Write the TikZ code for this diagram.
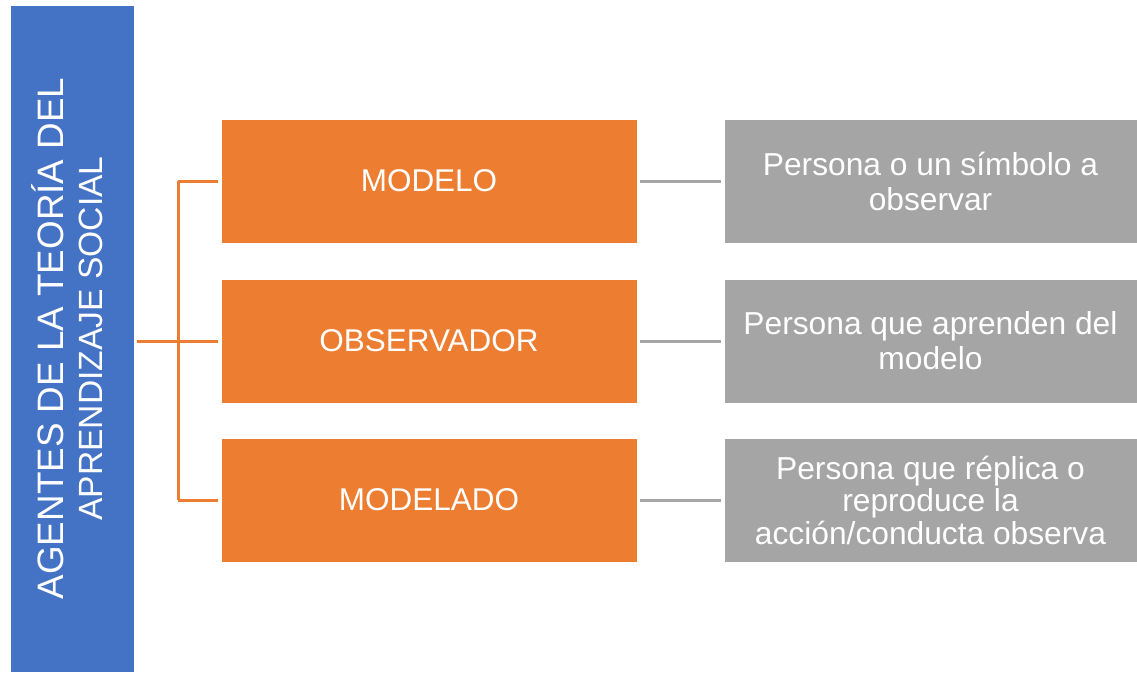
\documentclass[tikz,border=0pt]{standalone}
\usepackage{fontspec}
\setmainfont{Liberation Sans}
\definecolor{cblue}{HTML}{4472C4}
\definecolor{corange}{HTML}{ED7D31}
\definecolor{cgray}{HTML}{A5A5A5}
\begin{document}
\begin{tikzpicture}[x=0.75pt,y=-0.75pt,
  box/.style={rectangle, draw=white, line width=0.5pt, inner sep=0pt, align=center, text=white},
  bluebox/.style={box, fill=cblue, minimum width=500.25pt, minimum height=93pt, rotate=90,
    text depth=7.5pt, font=\fontsize{25.2}{29.25}\selectfont},
  orangebox/.style={box, fill=corange, minimum width=312pt, minimum height=93pt,
    font=\fontsize{23.6}{28}\selectfont},
  graybox/.style={box, fill=cgray, minimum width=309.75pt, minimum height=93pt,
    font=\fontsize{23.8}{26.25}\selectfont},
  oline/.style={draw=corange, line width=2.25pt},
  gline/.style={draw=cgray, line width=2.25pt}]
\useasboundingbox (0,0) rectangle (1137,672);
\node[bluebox] (agentes) at (72,338.5) {{\fontsize{27.6}{29.25}\selectfont AGENTES DE LA TEORÍA DEL}\\APRENDIZAJE SOCIAL};
\node[orangebox] (modelo) at (429,181) {MODELO};
\node[orangebox] (obs) at (429,341) {OBSERVADOR};
\node[orangebox] (modelado) at (429,500) {MODELADO};
\node[graybox] (p1) at (930.5,181) {Persona o un símbolo a\\observar};
\node[graybox] (p2) at (930.5,341) {Persona que aprenden del\\modelo};
\node[graybox, font=\fontsize{23.8}{24.4}\selectfont] (p3) at (930.5,500) {Persona que réplica o\\reproduce la\\acción/conducta observa};
\coordinate (jl) at ([xshift=2.25pt]agentes.south);
\coordinate (j) at (178,0);
\draw[oline] (jl |- obs.west) -- ([xshift=-2.25pt]obs.west);
\draw[oline] (j |- modelo.west) -- (j |- modelado.west);
\draw[oline] (j |- modelo.west) -- ([xshift=-2.25pt]modelo.west);
\draw[oline] (j |- modelado.west) -- ([xshift=-2.25pt]modelado.west);
\draw[gline] ([xshift=2.25pt]modelo.east) -- ([xshift=-2.25pt]p1.west);
\draw[gline] ([xshift=2.25pt]obs.east) -- ([xshift=-2.25pt]p2.west);
\draw[gline] ([xshift=2.25pt]modelado.east) -- ([xshift=-2.25pt]p3.west);
\end{tikzpicture}
\end{document}
